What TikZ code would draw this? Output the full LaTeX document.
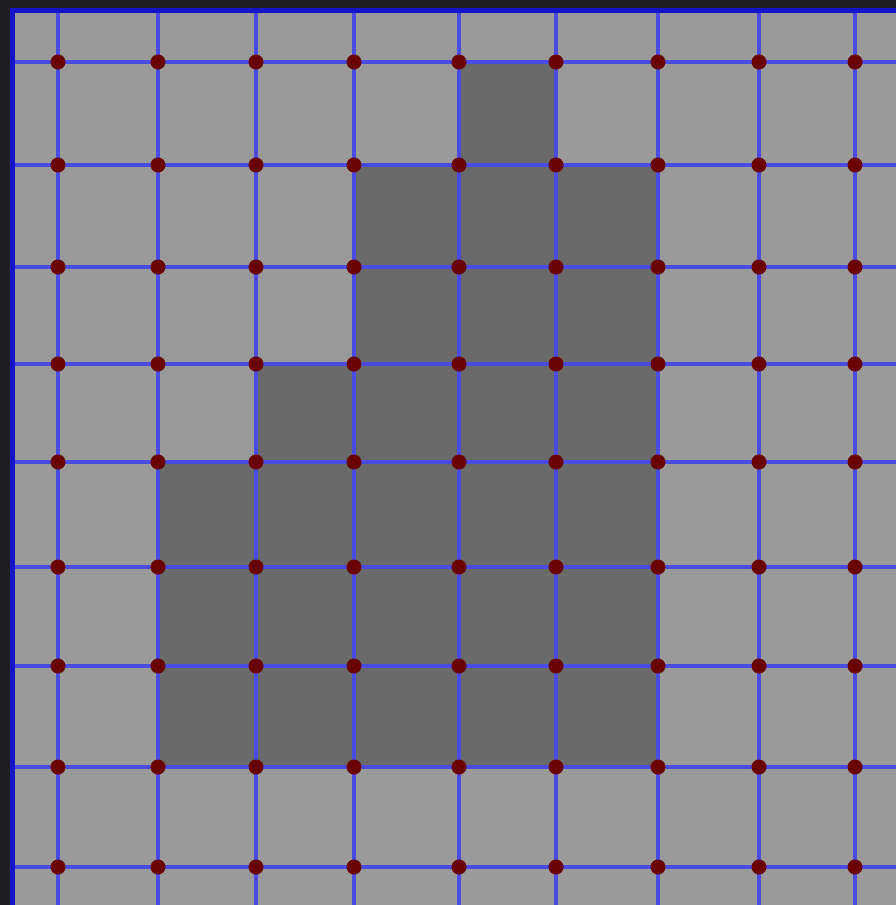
\documentclass[tikz,border=0pt]{standalone}
\definecolor{outerdark}{HTML}{1F1F22}
\definecolor{lightcell}{HTML}{9A9A9A}
\definecolor{darkcell}{HTML}{6A6A6A}
\definecolor{gridblue}{HTML}{4B4BE0}
\definecolor{frameblue}{HTML}{1414C8}
\definecolor{dotred}{HTML}{6A0404}
\tikzset{
  gridline/.style={gridblue, line width=3.2pt},
  frameline/.style={frameblue, line width=5pt},
  vertexdot/.style={fill=dotred},
}
\begin{document}
\begin{tikzpicture}[x=1pt,y=-1pt]
\useasboundingbox (0,0) rectangle (896,905);
\fill[outerdark] (0,0) rectangle (896,905);
\fill[lightcell] (12,10) rectangle (896,905);
\fill[darkcell] (459,62) -- (556,62) -- (556,165) -- (658,165) -- (658,767) -- (158,767) -- (158,462) -- (256,462) -- (256,364) -- (354,364) -- (354,165) -- (459,165) -- cycle;
\foreach \gx in {58,158,256,354,459,556,658,759,855}
  \draw[gridline] (\gx,10) -- (\gx,905);
\foreach \gy in {62,165,267,364,462,567,666,767,867}
  \draw[gridline] (12,\gy) -- (896,\gy);
\draw[frameline] (12,905) -- (12,10) -- (896,10);
\foreach \gx in {58,158,256,354,459,556,658,759,855}
  \foreach \gy in {62,165,267,364,462,567,666,767,867}
    \fill[vertexdot] (\gx,\gy) circle (7.5pt);
\end{tikzpicture}
\end{document}
